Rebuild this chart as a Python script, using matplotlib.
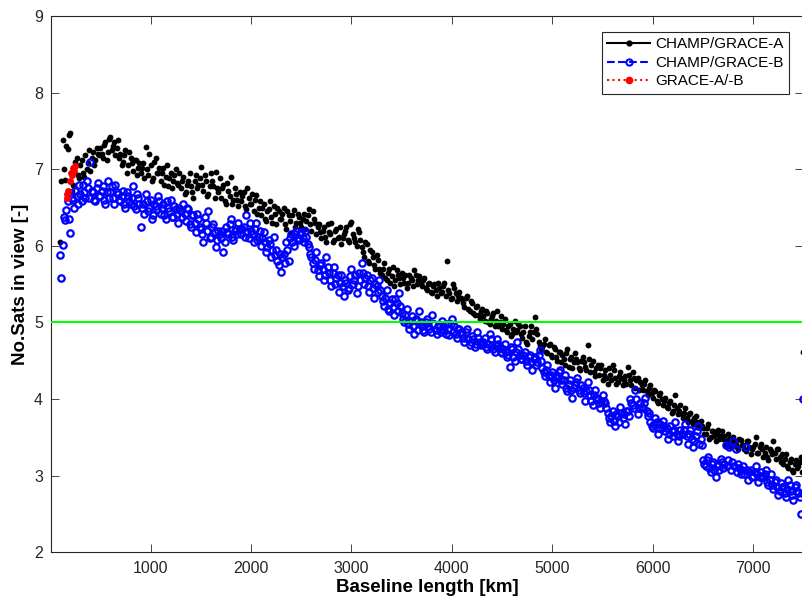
import numpy as np
import matplotlib
matplotlib.use("Agg")
import matplotlib.pyplot as plt
from matplotlib.lines import Line2D

plt.rcParams['font.family'] = ['Liberation Sans', 'DejaVu Sans']

# baseline length grids [km] (two interleaved sets of readings)
baseline_km = np.arange(100, 7501, 25)
baseline_mid_km = np.arange(112.5, 7500, 25)

# number of satellites in view, CHAMP/GRACE-A
champ_grace_a = [
    6.05, 7.38, 6.86, 7.26, 7.47, 6.80, 7.10, 6.92,
    7.05, 6.95, 7.18, 7.08, 6.98, 7.22, 7.12, 7.20,
    7.28, 7.15, 7.35, 7.22, 7.42, 7.30, 7.18, 7.38,
    7.20, 7.10, 7.25, 7.05, 7.15, 6.98, 7.12, 7.02,
    6.95, 7.08, 7.29, 6.92, 7.05, 6.88, 7.15, 6.95,
    6.85, 7.02, 6.90, 6.78, 6.95, 6.85, 7.00, 6.80,
    6.75, 6.90, 6.70, 6.85, 6.78, 6.62, 6.92, 6.80,
    7.03, 6.72, 6.85, 6.68, 6.95, 6.78, 6.97, 6.70,
    6.62, 6.80, 6.55, 6.72, 6.90, 6.60, 6.68, 6.52,
    6.58, 6.70, 6.48, 6.62, 6.55, 6.45, 6.66, 6.50,
    6.40, 6.55, 6.32, 6.48, 6.38, 6.52, 6.28, 6.45,
    6.35, 6.50, 6.22, 6.40, 6.17, 6.47, 6.30, 6.38,
    6.25, 6.42, 6.33, 6.48, 6.20, 6.35, 6.15, 6.28,
    6.10, 6.25, 6.05, 6.18, 6.30, 6.08, 6.22, 6.12,
    6.02, 6.15, 6.25, 6.05, 6.31, 6.10, 6.00, 6.18,
    5.98, 5.85, 6.02, 5.78, 5.92, 5.75, 5.88, 5.70,
    5.62, 5.78, 5.55, 5.70, 5.60, 5.48, 5.68, 5.58,
    5.65, 5.52, 5.45, 5.62, 5.55, 5.68, 5.50, 5.60,
    5.48, 5.58, 5.42, 5.52, 5.38, 5.50, 5.35, 5.45,
    5.40, 5.52, 5.80, 5.38, 5.32, 5.45, 5.28, 5.40,
    5.30, 5.20, 5.35, 5.15, 5.25, 5.10, 5.22, 5.05,
    5.18, 5.02, 5.12, 4.98, 5.08, 4.95, 5.15, 5.00,
    4.92, 5.05, 4.88, 4.98, 4.85, 5.02, 4.90, 4.96,
    4.80, 4.95, 4.72, 4.88, 4.78, 5.07, 4.85, 4.70,
    4.68, 4.78, 4.60, 4.72, 4.55, 4.65, 4.50, 4.62,
    4.58, 4.45, 4.65, 4.52, 4.40, 4.60, 4.48, 4.38,
    4.55, 4.42, 4.70, 4.35, 4.50, 4.30, 4.45, 4.40,
    4.25, 4.38, 4.20, 4.32, 4.45, 4.28, 4.22, 4.35,
    4.18, 4.30, 4.42, 4.25, 4.35, 4.15, 4.28, 4.22,
    4.12, 4.25, 4.05, 4.18, 4.02, 4.10, 3.95, 4.08,
    3.92, 4.02, 3.88, 3.98, 3.85, 4.05, 3.80, 3.92,
    3.75, 3.88, 3.70, 3.82, 3.68, 3.78, 3.65, 3.72,
    3.62, 3.55, 3.68, 3.50, 3.58, 3.45, 3.60, 3.52,
    3.48, 3.40, 3.55, 3.38, 3.50, 3.42, 3.35, 3.46,
    3.40, 3.32, 3.45, 3.28, 3.38, 3.50, 3.30, 3.42,
    3.25, 3.38, 3.20, 3.32, 3.45, 3.22, 3.35, 3.18,
    3.15, 3.28, 3.10, 3.22, 3.05, 3.20, 3.12, 3.25,
    4.61,
]
champ_grace_a_mid = [
    6.85, 7.00, 7.30, 7.45, 6.72, 6.98, 7.15, 6.88,
    7.12, 6.90, 7.00, 7.25, 7.15, 7.05, 7.28, 7.18,
    7.20, 7.32, 7.12, 7.40, 7.25, 7.35, 7.28, 7.15,
    7.05, 7.18, 6.95, 7.22, 7.08, 7.12, 6.92, 7.08,
    7.02, 6.88, 7.00, 7.20, 6.85, 7.10, 6.95, 7.02,
    6.95, 6.80, 7.05, 6.88, 6.75, 6.92, 6.82, 6.95,
    6.85, 6.68, 6.80, 6.95, 6.70, 6.85, 6.75, 6.88,
    6.80, 6.92, 6.65, 6.78, 6.85, 6.62, 6.75, 6.88,
    6.75, 6.58, 6.82, 6.65, 6.55, 6.75, 6.60, 6.70,
    6.65, 6.52, 6.75, 6.55, 6.68, 6.60, 6.42, 6.58,
    6.50, 6.35, 6.45, 6.58, 6.30, 6.42, 6.50, 6.35,
    6.42, 6.28, 6.45, 6.32, 6.40, 6.25, 6.42, 6.30,
    6.35, 6.22, 6.40, 6.28, 6.45, 6.30, 6.25, 6.18,
    6.20, 6.12, 6.28, 6.15, 6.05, 6.20, 6.10, 6.25,
    6.10, 6.20, 6.08, 6.28, 6.15, 6.05, 6.22, 6.08,
    5.92, 6.05, 5.80, 5.95, 5.85, 5.70, 5.82, 5.65,
    5.70, 5.58, 5.65, 5.52, 5.72, 5.55, 5.62, 5.50,
    5.58, 5.62, 5.52, 5.58, 5.48, 5.62, 5.55, 5.52,
    5.55, 5.45, 5.50, 5.40, 5.48, 5.42, 5.52, 5.38,
    5.48, 5.35, 5.42, 5.30, 5.50, 5.38, 5.35, 5.32,
    5.25, 5.32, 5.18, 5.28, 5.12, 5.20, 5.10, 5.15,
    5.08, 5.15, 5.00, 5.05, 5.12, 5.02, 4.95, 5.08,
    4.98, 4.90, 4.95, 4.82, 4.92, 4.88, 4.98, 4.85,
    4.88, 4.75, 4.82, 4.95, 4.88, 4.92, 4.75, 4.65,
    4.72, 4.62, 4.70, 4.58, 4.68, 4.55, 4.62, 4.48,
    4.52, 4.60, 4.42, 4.55, 4.48, 4.52, 4.40, 4.50,
    4.48, 4.38, 4.52, 4.45, 4.35, 4.40, 4.32, 4.45,
    4.32, 4.28, 4.40, 4.25, 4.38, 4.20, 4.30, 4.28,
    4.25, 4.20, 4.32, 4.18, 4.28, 4.25, 4.12, 4.18,
    4.20, 4.10, 4.15, 4.08, 4.12, 3.98, 4.05, 4.00,
    3.98, 3.90, 3.95, 3.82, 3.92, 3.88, 3.85, 3.80,
    3.82, 3.75, 3.80, 3.72, 3.75, 3.70, 3.68, 3.65,
    3.55, 3.62, 3.48, 3.58, 3.52, 3.55, 3.48, 3.58,
    3.52, 3.45, 3.48, 3.42, 3.45, 3.38, 3.48, 3.40,
    3.35, 3.45, 3.38, 3.35, 3.42, 3.30, 3.38, 3.35,
    3.30, 3.25, 3.35, 3.28, 3.30, 3.35, 3.25, 3.28,
    3.22, 3.12, 3.18, 3.08, 3.15, 3.10, 3.18, 3.05,
]

# number of satellites in view, CHAMP/GRACE-B
champ_grace_b = [
    5.88, 6.01, 6.34, 6.58, 6.17, 6.60, 6.72, 6.55,
    6.68, 6.80, 6.62, 6.75, 7.10, 6.70, 6.58, 6.82,
    6.65, 6.78, 6.55, 6.85, 6.70, 6.62, 6.80, 6.68,
    6.58, 6.72, 6.50, 6.65, 6.55, 6.78, 6.48, 6.62,
    6.25, 6.55, 6.68, 6.45, 6.60, 6.40, 6.52, 6.65,
    6.42, 6.55, 6.35, 6.50, 6.60, 6.38, 6.48, 6.30,
    6.45, 6.55, 6.32, 6.48, 6.25, 6.40, 6.18, 6.35,
    6.22, 6.05, 6.30, 6.45, 6.12, 6.28, 5.98, 6.20,
    6.10, 5.92, 6.25, 6.15, 6.35, 6.08, 6.22, 6.30,
    6.15, 6.25, 6.40, 6.10, 6.20, 6.05, 6.30, 6.12,
    6.00, 6.18, 5.92, 6.08, 5.85, 6.12, 5.95, 5.75,
    5.66, 5.90, 6.05, 5.80, 6.15, 6.00, 6.20, 6.08,
    6.18, 6.05, 6.12, 5.98, 5.85, 5.70, 5.92, 5.60,
    5.78, 5.55, 5.85, 5.65, 5.48, 5.72, 5.58, 5.40,
    5.62, 5.35, 5.52, 5.45, 5.70, 5.55, 5.38, 5.65,
    5.78, 5.50, 5.62, 5.40, 5.58, 5.32, 5.48, 5.55,
    5.35, 5.22, 5.42, 5.15, 5.30, 5.10, 5.25, 5.38,
    5.12, 5.00, 5.18, 4.92, 5.08, 4.85, 5.02, 5.15,
    4.95, 4.88, 5.05, 4.92, 5.10, 4.98, 4.85, 4.95,
    5.02, 4.90, 4.98, 4.84, 5.05, 4.95, 4.80, 4.92,
    4.85, 4.75, 4.92, 4.70, 4.82, 4.68, 4.88, 4.75,
    4.72, 4.80, 4.65, 4.85, 4.70, 4.62, 4.78, 4.68,
    4.60, 4.72, 4.55, 4.42, 4.65, 4.50, 4.75, 4.58,
    4.52, 4.62, 4.45, 4.58, 4.38, 4.55, 4.48, 4.64,
    4.40, 4.30, 4.45, 4.22, 4.35, 4.15, 4.28, 4.38,
    4.20, 4.32, 4.10, 4.25, 4.02, 4.18, 4.28, 4.08,
    4.15, 3.98, 4.22, 4.05, 3.92, 4.12, 4.00, 3.88,
    4.05, 3.95, 3.82, 3.70, 3.85, 3.65, 3.78, 3.90,
    3.75, 3.68, 3.85, 4.00, 3.92, 4.12, 3.80, 3.95,
    3.88, 4.02, 3.78, 3.70, 3.62, 3.75, 3.55, 3.68,
    3.72, 3.58, 3.48, 3.65, 3.52, 3.70, 3.45, 3.60,
    3.55, 3.68, 3.42, 3.60, 3.37, 3.52, 3.65, 3.48,
    3.20, 3.12, 3.25, 3.05, 3.18, 2.98, 3.15, 3.22,
    3.10, 3.40, 3.20, 3.08, 3.45, 3.35, 3.15, 3.02,
    3.12, 3.38, 2.95, 3.08, 3.00, 3.12, 2.92, 3.05,
    2.98, 3.08, 2.88, 3.02, 2.82, 2.95, 2.75, 2.90,
    2.85, 2.72, 2.95, 2.80, 2.68, 2.88, 2.78, 2.50,
    4.00,
]
champ_grace_b_mid = [
    5.58, 6.38, 6.47, 6.35, 6.62, 6.50, 6.65, 6.80,
    6.58, 6.70, 6.85, 6.62, 6.72, 6.60, 6.75, 6.65,
    6.72, 6.60, 6.70, 6.62, 6.78, 6.55, 6.70, 6.60,
    6.65, 6.55, 6.70, 6.58, 6.62, 6.52, 6.68, 6.55,
    6.50, 6.42, 6.58, 6.50, 6.35, 6.55, 6.48, 6.58,
    6.50, 6.40, 6.58, 6.45, 6.38, 6.52, 6.42, 6.50,
    6.38, 6.42, 6.50, 6.28, 6.40, 6.30, 6.42, 6.25,
    6.15, 6.38, 6.20, 6.10, 6.25, 6.18, 6.08, 6.15,
    6.20, 6.05, 6.18, 6.28, 6.12, 6.20, 6.15, 6.22,
    6.22, 6.12, 6.18, 6.30, 6.15, 6.22, 6.08, 6.20,
    6.10, 6.05, 5.98, 6.02, 5.95, 5.88, 5.80, 5.90,
    5.85, 5.78, 5.95, 6.10, 6.05, 6.15, 6.10, 6.15,
    6.10, 6.20, 6.02, 5.90, 5.78, 5.82, 5.68, 5.75,
    5.70, 5.62, 5.72, 5.55, 5.65, 5.50, 5.62, 5.52,
    5.48, 5.55, 5.42, 5.60, 5.50, 5.62, 5.48, 5.55,
    5.65, 5.58, 5.48, 5.55, 5.45, 5.50, 5.40, 5.42,
    5.28, 5.32, 5.18, 5.25, 5.20, 5.30, 5.15, 5.22,
    5.05, 5.10, 4.98, 5.02, 4.95, 5.05, 4.90, 5.00,
    4.90, 5.00, 4.95, 4.88, 4.98, 4.90, 4.95, 4.88,
    4.95, 4.85, 4.92, 4.98, 4.88, 4.85, 4.92, 4.88,
    4.80, 4.88, 4.78, 4.75, 4.78, 4.72, 4.80, 4.70,
    4.75, 4.68, 4.72, 4.78, 4.65, 4.70, 4.72, 4.62,
    4.65, 4.62, 4.58, 4.68, 4.55, 4.62, 4.65, 4.52,
    4.58, 4.50, 4.55, 4.48, 4.52, 4.45, 4.58, 4.50,
    4.35, 4.38, 4.30, 4.32, 4.25, 4.30, 4.35, 4.25,
    4.25, 4.15, 4.20, 4.12, 4.15, 4.22, 4.12, 4.18,
    4.08, 4.10, 4.12, 3.98, 4.05, 4.02, 3.95, 3.98,
    3.98, 3.88, 3.75, 3.78, 3.72, 3.80, 3.70, 3.82,
    3.80, 3.85, 3.78, 3.95, 3.88, 4.00, 3.88, 3.90,
    3.95, 3.85, 3.82, 3.65, 3.68, 3.70, 3.62, 3.62,
    3.65, 3.62, 3.55, 3.58, 3.60, 3.55, 3.52, 3.55,
    3.60, 3.52, 3.55, 3.48, 3.45, 3.58, 3.42, 3.40,
    3.15, 3.20, 3.10, 3.15, 3.08, 3.12, 3.08, 3.18,
    3.15, 3.12, 3.38, 3.18, 3.12, 3.05, 3.10, 3.08,
    3.02, 3.08, 3.05, 2.98, 3.05, 3.02, 2.98, 3.00,
    3.02, 2.92, 2.95, 2.88, 2.92, 2.85, 2.80, 2.85,
    2.78, 2.82, 2.88, 2.75, 2.85, 2.80, 2.72, 2.78,
]

# GRACE-A/-B (short baselines only)
grace_ab_km = [165, 172, 180, 200, 208, 215, 228, 240, 250]
grace_ab = [6.68, 6.62, 6.72, 6.84, 6.95, 6.92, 7.02, 6.98, 7.04]

threshold = 5

x_all = np.concatenate([baseline_km, baseline_mid_km])
a_all = np.concatenate([champ_grace_a, champ_grace_a_mid])
b_all = np.concatenate([champ_grace_b, champ_grace_b_mid])

fig = plt.figure(figsize=(8.03, 6.06), dpi=100)
ax = fig.add_axes([0.0631, 0.0886, 0.9375, 0.885])

ax.plot(x_all, a_all, 'o', color='k', ms=4.2, mew=0, zorder=2)
ax.plot(x_all, b_all, 'o', color='b', mfc='none', ms=4.6, mew=1.6, zorder=3)
ax.plot(grace_ab_km, grace_ab, 'o', color='r', ms=5, mew=0, zorder=4)
ax.axhline(threshold, color=(0, 1, 0), lw=1.5, zorder=5)

ax.set_xlim(5, 7500)
ax.set_ylim(2, 9)
ax.set_xticks(range(1000, 7001, 1000))
ax.set_yticks(range(2, 10))

gray = '#262626'
for s in ax.spines.values():
    s.set_linewidth(0.8)
    s.set_color(gray)
ax.tick_params(direction='in', length=5.5, width=0.6, color=gray,
               labelcolor=gray, labelsize=11.5, top=True, right=True)
ax.tick_params(axis='x', pad=6)
ax.tick_params(axis='y', pad=5.5)

ax.set_xlabel('Baseline length [km]', fontsize=13.5, fontweight='bold', labelpad=2.5)
ax.set_ylabel('No.Sats in view [-]', fontsize=13.5, fontweight='bold', labelpad=3.5)

# legend entries show line + marker style like the original
handles = [
    Line2D([], [], color='k', ls='-', lw=1.5, marker='.', ms=7),
    Line2D([], [], color='b', ls='--', lw=1.5, marker='o', mfc='none', ms=4.5, mew=1.5),
    Line2D([], [], color='r', ls=':', lw=1.5, marker='.', ms=9),
]
labels = ['CHAMP/GRACE-A', 'CHAMP/GRACE-B', 'GRACE-A/-B']
leg = ax.legend(handles, labels, loc='upper right', bbox_to_anchor=(0.9808, 0.9702),
                borderaxespad=0, fontsize=11, handlelength=2.8, handletextpad=0.33,
                borderpad=0.35, labelspacing=0.3, fancybox=False, framealpha=1)
leg.get_frame().set_edgecolor(gray)
leg.get_frame().set_linewidth(0.8)

fig.savefig('out.png', dpi=100)
